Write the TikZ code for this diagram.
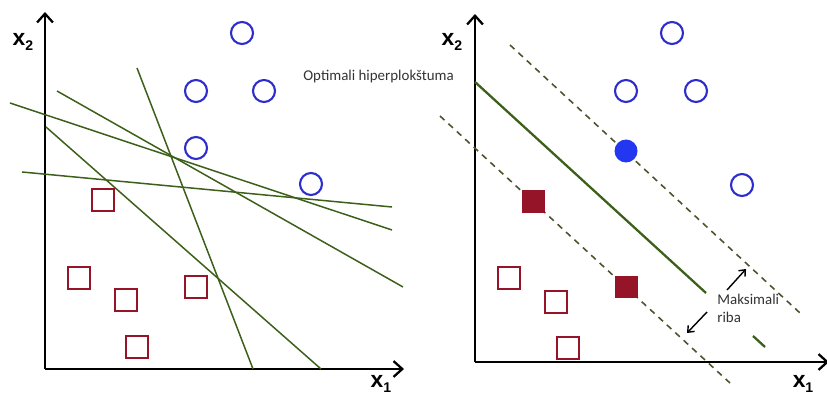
\documentclass[tikz,border=0pt]{standalone}
\usepackage{fontspec}
\setsansfont{Liberation Sans}
\newfontfamily\notefont{Carlito}
\usetikzlibrary{arrows.meta}

\definecolor{ptblue}{RGB}{45,45,205}
\definecolor{ptfill}{RGB}{35,55,240}
\definecolor{ptred}{RGB}{150,20,40}
\definecolor{lngreen}{RGB}{60,95,25}
\definecolor{dashgreen}{RGB}{75,85,45}

\tikzset{
  axis/.style={line width=1.3pt, -{Straight Barb[length=5pt,width=9pt,line width=1.3pt]}},
  axlabel/.style={font=\fontsize{13}{13}\selectfont\sffamily\bfseries, inner sep=0pt},
  posp/.style={circle, draw=ptblue, line width=1.2pt, minimum size=0.44cm, inner sep=0pt},
  negp/.style={rectangle, draw=ptred, line width=1.2pt, minimum size=0.44cm, inner sep=0pt},
  posv/.style={circle, fill=ptfill, minimum size=0.46cm, inner sep=0pt},
  negv/.style={rectangle, fill=ptred, minimum size=0.46cm, inner sep=0pt},
  sepline/.style={line width=0.85pt, lngreen},
  bestline/.style={line width=1.3pt, lngreen},
  marginline/.style={line width=0.9pt, dashgreen, dash pattern=on 3.5pt off 3pt},
  ribarrow/.style={line width=0.8pt, -{Straight Barb[length=3pt,width=5pt]}},
  note/.style={font=\notefont\fontsize{8.5}{10}\selectfont, text=black!80, inner sep=0pt, align=left}
}

\begin{document}
\begin{tikzpicture}[x=0.02cm, y=-0.02cm]
\useasboundingbox (0,0) rectangle (827,394);
% left: many separating lines
\begin{scope}
\coordinate (o1) at (45,369);
\draw[axis] (o1) -- (45,12);
\draw[axis] (o1) -- (404,369);
\node[axlabel] (lx2) at (23,42) {x\raisebox{-0.45ex}{\fontsize{8}{8}\selectfont 2}};
\node[axlabel] (lx1) at (381,384) {x\raisebox{-0.45ex}{\fontsize{8}{8}\selectfont 1}};
\draw[sepline] (137,68) -- (253,369);
\draw[sepline] (57,91) -- (403,287);
\draw[sepline] (10,103) -- (392,230);
\draw[sepline] (22,172) -- (392,207);
\draw[sepline] (46,127) -- (321,369);
\node[posp] (la1) at (242,33) {};
\node[posp] (la2) at (196,91) {};
\node[posp] (la3) at (264,91) {};
\node[posp] (la4) at (196,148) {};
\node[posp] (la5) at (311,184) {};
\node[negp] (lb1) at (103,200) {};
\node[negp] (lb2) at (79,278) {};
\node[negp] (lb3) at (126,300) {};
\node[negp] (lb4) at (196,287) {};
\node[negp] (lb5) at (137,347) {};
\end{scope}
% right: optimal hyperplane with margin
\begin{scope}
\coordinate (o2) at (475,362);
\draw[axis] (o2) -- (475,14);
\draw[axis] (o2) -- (829,362);
\node[axlabel] (rx2) at (452,42) {x\raisebox{-0.45ex}{\fontsize{8}{8}\selectfont 2}};
\node[axlabel] (rx1) at (803,384) {x\raisebox{-0.45ex}{\fontsize{8}{8}\selectfont 1}};
\draw[marginline] (510,45) -- (800,313);
\draw[marginline] (440,116) -- (730,383);
\draw[bestline] (475,82) -- (706,293);
\draw[bestline] (753,336) -- (765,347);
\node[posp] (ra1) at (672,33) {};
\node[posp] (ra2) at (626,91) {};
\node[posp] (ra3) at (696,91) {};
\node[posv] (ra4) at (626,151) {};
\node[posp] (ra5) at (742,185) {};
\node[negv] (rb1) at (533,202) {};
\node[negv] (rb2) at (626,287) {};
\node[negp] (rb3) at (509,278) {};
\node[negp] (rb4) at (556,302) {};
\node[negp] (rb5) at (568,348) {};
\node[note, anchor=west] (opt) at (303,77) {Optimali hiperplokštuma};
\node[note, anchor=north west] (rib) at (717,294) {Maksimali\\riba};
\coordinate (ua) at (727,290);
\coordinate (ub) at (746,269);
\coordinate (la) at (707,312);
\coordinate (lb) at (687,333);
\draw[ribarrow] (ua) -- (ub);
\draw[ribarrow] (la) -- (lb);
\end{scope}
\end{tikzpicture}
\end{document}
